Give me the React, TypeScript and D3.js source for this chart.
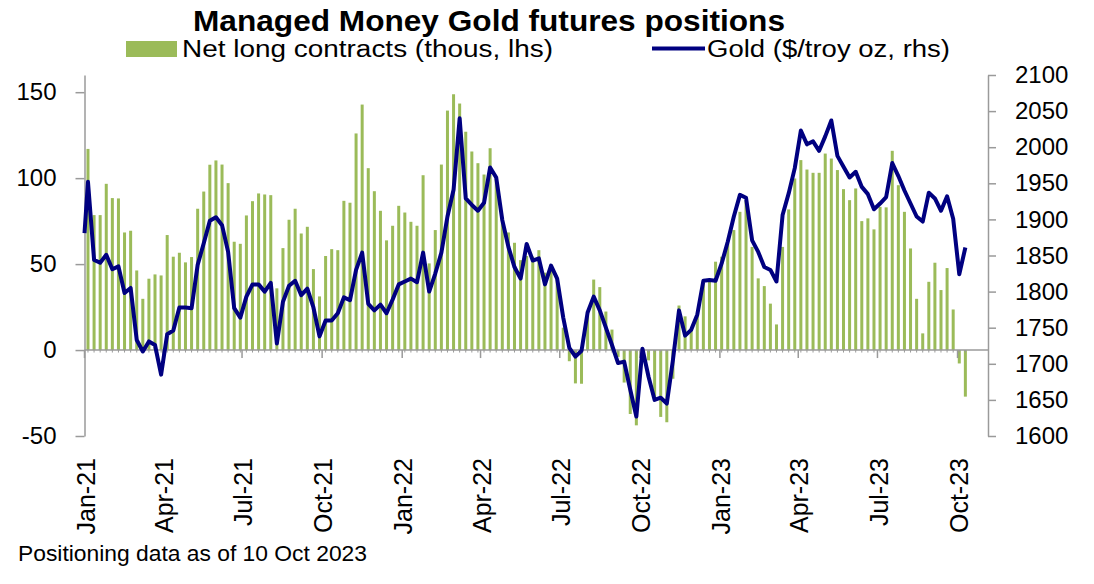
import React, { useRef, useEffect } from "react";
import { select, scaleLinear, scaleTime, axisLeft, axisRight, line, timeTuesday } from "d3";

// weekly COT report dates (Tuesdays), Jan 5 2021 .. Oct 10 2023
const firstReport = new Date(2021, 0, 5);
const lastReport = new Date(2023, 9, 11);
const weeks = timeTuesday.range(firstReport, lastReport);

// net long contracts, thousands (lhs)
const netLong = [
  117, 78.5, 78.5, 96.7, 88.4, 88.2, 68.4, 69.4, 46.3, 29.8,
  41.5, 44, 43.4, 66.9, 54.3, 56.6, 51, 54.1, 82.2, 92.2,
  107.8, 110.3, 107.9, 97.1, 63, 61.8, 78.3, 86.6, 91.1, 90.5,
  90.1, 35.9, 59.3, 75.8, 82.2, 67.8, 71.7, 47.1, 31.2, 54.7,
  58.7, 58.1, 86.8, 85.7, 126, 142.8, 105.8, 92.4, 81, 63.8,
  72.3, 83.9, 80, 74.6, 72.3, 101.7, 50.4, 69.8, 107.9, 139.3,
  148.8, 143.4, 127, 115.5, 108.7, 102.1, 117.4, 100, 77.5, 68.4,
  62.4, 52.3, 54.7, 54.3, 58.1, 45, 49.8, 41.7, 13, -6.5,
  -19.4, -19.6, 20, 41, 36.6, 22.4, 11.9, -4, -18.9, -37.2,
  -43.8, -2, -6, -28, -38.9, -42, -16.7, 25.9, 19.6, 11.8,
  20.6, 39.7, 40, 51.4, 54.3, 62, 69.8, 80.4, 87, 60,
  41.7, 37.2, 27, 14.9, 60, 81.8, 99.8, 110.5, 105, 103.1,
  103.1, 114.3, 111.4, 104.7, 93.6, 87.2, 94, 75, 76.6, 70.2,
  83.3, 83, 115.9, 95.9, 80.4, 59.1, 29.8, 9.7, 39.7, 50.8,
  34.9, 47.7, 23.6, -7.8, -27.1,
];

// gold price, $/troy oz (rhs); first point is the start of 2021, then weekly
const goldStartDate = new Date(2021, 0, 1);
const gold = [
  1881,
  1952, 1844, 1840, 1851, 1831, 1835, 1798, 1805, 1733, 1717,
  1731, 1726, 1685, 1741, 1746, 1778, 1778, 1777, 1837, 1867,
  1898, 1903, 1892, 1855, 1777, 1764, 1793, 1810, 1810, 1800,
  1812, 1728, 1786, 1808, 1815, 1795, 1804, 1778, 1738, 1760,
  1760, 1770, 1792, 1788, 1830, 1854, 1783, 1774, 1782, 1770,
  1789, 1810, 1814, 1818, 1813, 1854, 1800, 1825, 1854, 1904,
  1941, 2040, 1929, 1920, 1912, 1923, 1972, 1958, 1899, 1862,
  1834, 1818, 1866, 1843, 1846, 1810, 1836, 1818, 1764, 1722,
  1710, 1718, 1771, 1793, 1774, 1750, 1726, 1701, 1703, 1664,
  1627, 1721, 1682, 1650, 1653, 1645, 1705, 1774, 1739, 1747,
  1768, 1815, 1816, 1815, 1839, 1869, 1904, 1934, 1930, 1871,
  1855, 1834, 1830, 1814, 1906, 1936, 1971, 2023, 2004, 2008,
  1995, 2015, 2037, 1988, 1973, 1958, 1966, 1945, 1935, 1914,
  1922, 1931, 1978, 1960, 1940, 1922, 1904, 1897, 1937, 1929,
  1912, 1932, 1901, 1824, 1861,
];
const goldDates = [goldStartDate, ...weeks];

const leftTicks = [-50, 0, 50, 100, 150];
const rightTicks = [1600, 1650, 1700, 1750, 1800, 1850, 1900, 1950, 2000, 2050, 2100];
const quarterTicks = [
  new Date(2021, 0, 1), new Date(2021, 3, 1), new Date(2021, 6, 1), new Date(2021, 9, 1),
  new Date(2022, 0, 1), new Date(2022, 3, 1), new Date(2022, 6, 1), new Date(2022, 9, 1),
  new Date(2023, 0, 1), new Date(2023, 3, 1), new Date(2023, 6, 1), new Date(2023, 9, 1),
];
const quarterLabels = [
  "Jan-21", "Apr-21", "Jul-21", "Oct-21", "Jan-22", "Apr-22",
  "Jul-22", "Oct-22", "Jan-23", "Apr-23", "Jul-23", "Oct-23",
];

const W = 1094;
const H = 584;
const plotLeft = 84.5;
const plotRight = 988;
const plotTop = 75;
const plotBottom = 436;

const GREEN = "#9BBB59";
const NAVY = "#000080";
const AXIS = "#9a9a9a";
const NARROW = "'Liberation Sans Narrow', 'Arial Narrow', 'Liberation Sans', Arial, sans-serif";
const SANS = "'Liberation Sans', Arial, sans-serif";

const App: React.FC = () => {
  const gl = useRef<SVGGElement>(null);
  const gr = useRef<SVGGElement>(null);

  const x = scaleTime()
    .domain([new Date(2021, 0, 1), new Date(2023, 10, 5)])
    .range([plotLeft, plotRight]);
  const yL = scaleLinear().domain([-50, 160]).range([plotBottom, plotTop]);
  const yR = scaleLinear().domain([1600, 2100]).range([plotBottom, plotTop]);

  const goldPath = line<number>()
    .x((_, i) => x(goldDates[i]))
    .y((d) => yR(d))(gold);

  useEffect(() => {
    const styleAxis = (g: any) => {
      g.attr("font-family", SANS).attr("font-size", 24);
      g.selectAll("path.domain").attr("stroke", AXIS).attr("stroke-width", 1.5);
      g.selectAll(".tick line").attr("stroke", AXIS).attr("stroke-width", 1.5);
      g.selectAll(".tick text").attr("fill", "#000");
    };
    if (gl.current) {
      select(gl.current)
        .call(
          axisLeft(yL)
            .tickValues(leftTicks)
            .tickFormat((d) => String(d))
            .tickSize(9)
            .tickSizeOuter(0)
            .tickPadding(19)
        )
        .call(styleAxis);
    }
    if (gr.current) {
      select(gr.current)
        .call(
          axisRight(yR)
            .tickValues(rightTicks)
            .tickFormat((d) => String(d))
            .tickSize(8)
            .tickSizeOuter(0)
            .tickPadding(19)
        )
        .call(styleAxis);
    }
  }, []);

  const zeroY = yL(0);

  return (
    <div style={{ position: "absolute", left: 0, top: 0 }}>
      <svg width={W} height={H} style={{ display: "block", background: "#fff" }}>
        {/* title */}
        <text x={489} y={31} textAnchor="middle" fontFamily={NARROW} fontWeight="bold"
          fontSize={30} textLength={592} lengthAdjust="spacingAndGlyphs">
          Managed Money Gold futures positions
        </text>

        {/* legend */}
        <rect x={126} y={41} width={51} height={16} fill={GREEN} />
        <text x={182} y={57} fontFamily={NARROW} fontSize={23} textLength={371}
          lengthAdjust="spacingAndGlyphs">
          Net long contracts (thous, lhs)
        </text>
        <line x1={652} x2={705} y1={48.5} y2={48.5} stroke={NAVY} strokeWidth={4} />
        <text x={707} y={57} fontFamily={NARROW} fontSize={23} textLength={243}
          lengthAdjust="spacingAndGlyphs">
          Gold ($/troy oz, rhs)
        </text>

        {/* bars */}
        <g fill={GREEN}>
          {netLong.map((v, i) => (
            <rect key={i} x={x(weeks[i]) - 1.5} width={3}
              y={Math.min(yL(v), zeroY)} height={Math.abs(yL(v) - zeroY)} />
          ))}
        </g>

        {/* x axis along zero */}
        <g stroke={AXIS}>
          <line x1={plotLeft} x2={plotRight} y1={zeroY} y2={zeroY} strokeWidth={1.5} />
          {weeks.map((d, i) => (
            <line key={i} x1={x(d)} x2={x(d)} y1={zeroY} y2={zeroY + 2.5} strokeWidth={1} />
          ))}
          {quarterTicks.map((d, i) => (
            <line key={"q" + i} x1={x(d)} x2={x(d)} y1={zeroY} y2={zeroY + 8} strokeWidth={1.5} />
          ))}
        </g>

        <g ref={gl} transform={`translate(${plotLeft},0)`} />
        <g ref={gr} transform={`translate(${plotRight},0)`} />

        {/* gold line */}
        <path d={goldPath ?? ""} fill="none" stroke={NAVY} strokeWidth={4} strokeLinejoin="round" />

        {/* x labels */}
        {quarterTicks.map((d, i) => (
          <text key={i} transform={`translate(${x(d) + 1.5},458) rotate(-90)`} textAnchor="end"
            dy="0.35em" fontFamily={SANS} fontSize={25} fill="#000">
            {quarterLabels[i]}
          </text>
        ))}

        {/* footnote */}
        <text x={18} y={561} fontFamily={NARROW} fontSize={22} textLength={349}
          lengthAdjust="spacingAndGlyphs">
          Positioning data as of 10 Oct 2023
        </text>
      </svg>
    </div>
  );
};

export default App;
